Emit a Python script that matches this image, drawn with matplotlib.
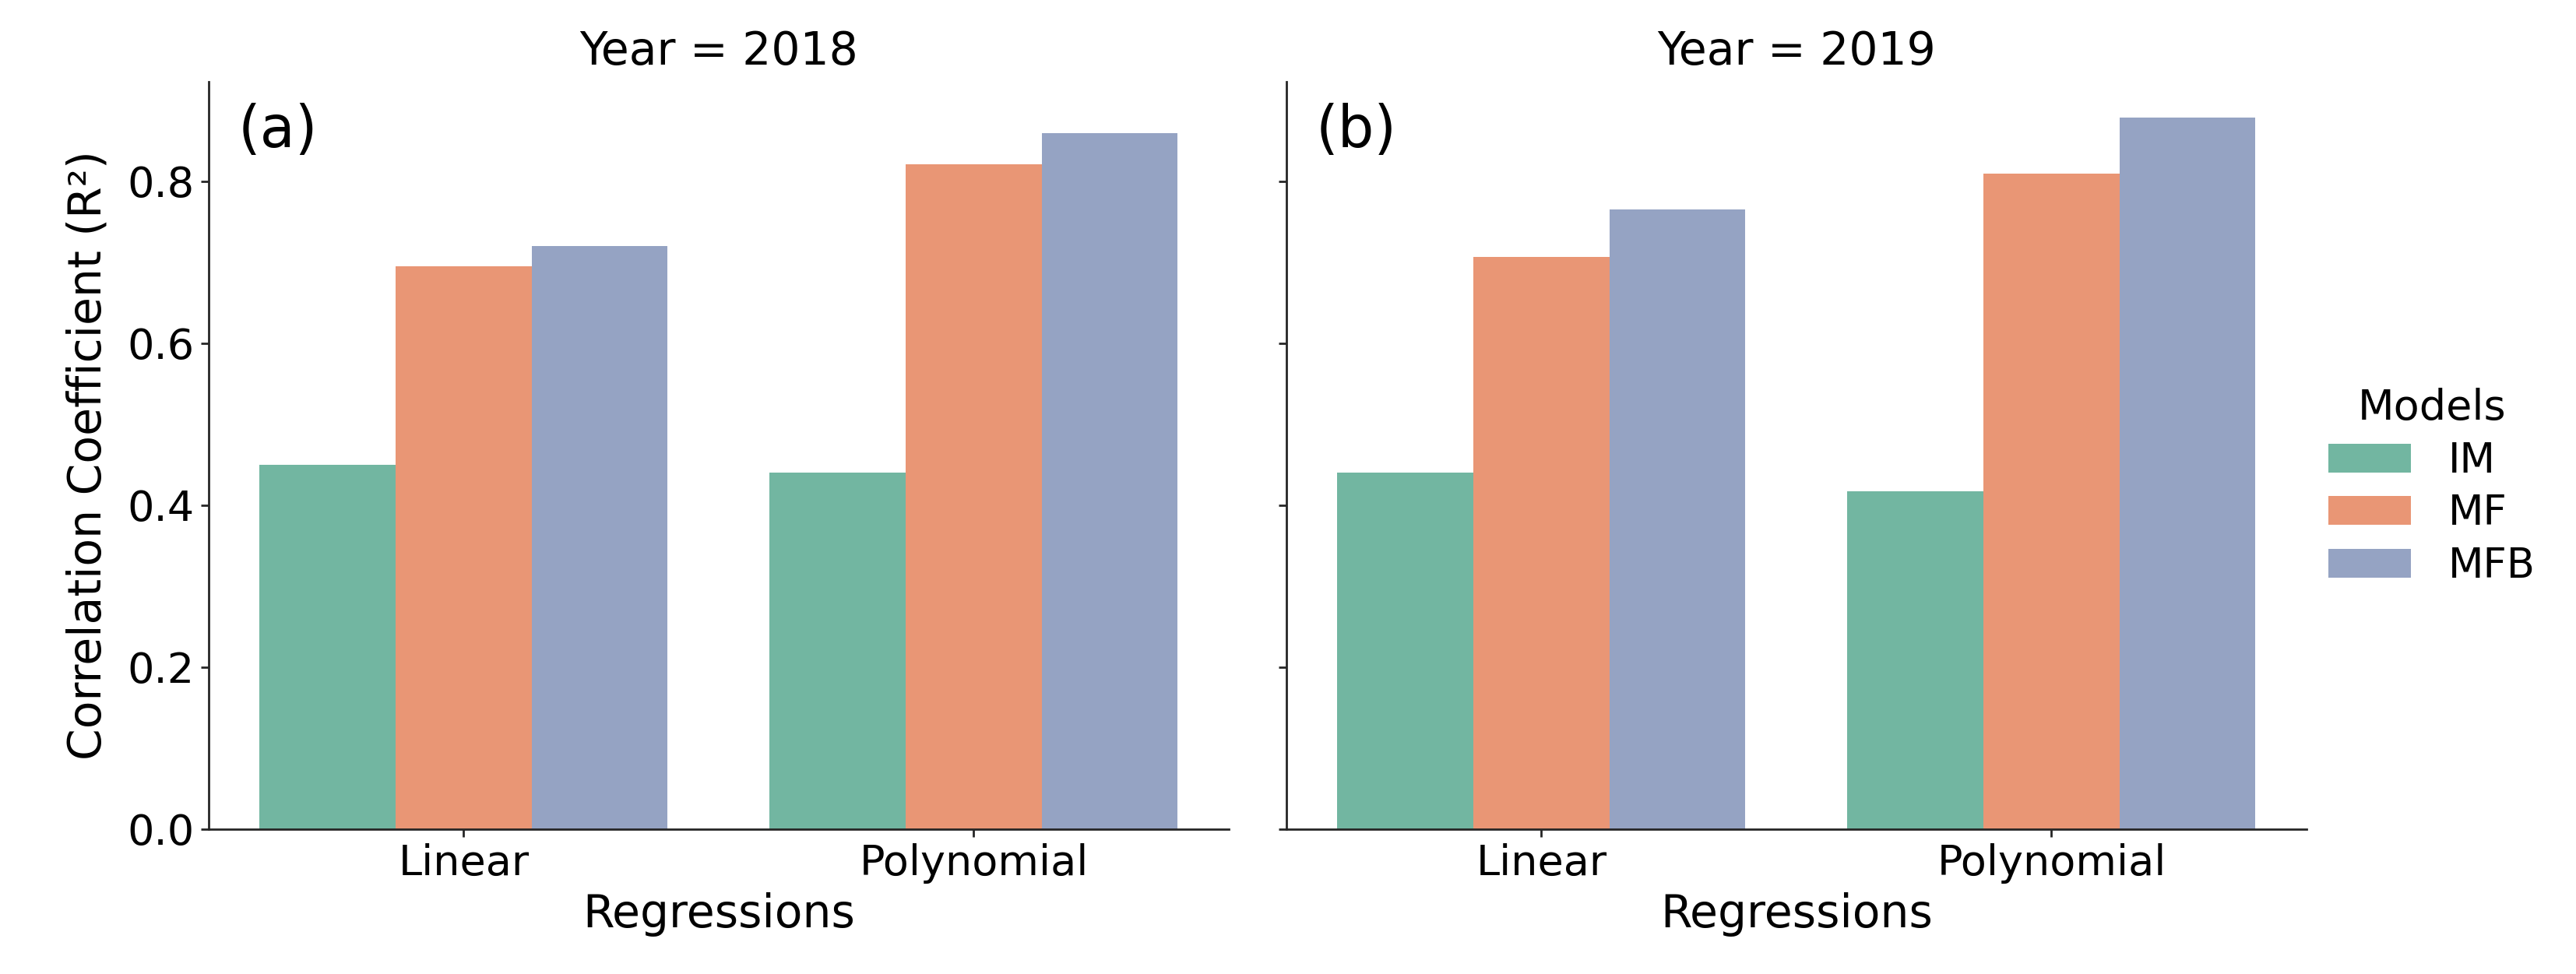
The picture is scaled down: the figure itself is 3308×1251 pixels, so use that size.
import matplotlib
matplotlib.use('Agg')
import matplotlib.pyplot as plt
import numpy as np
import seaborn as sns

# data
years = ['2018', '2019']
regressions = ['Linear', 'Polynomial']
models = ['IM', 'MF', 'MFB']
panel_tags = ['(a)', '(b)']

r2_2018_im = [0.450, 0.440]
r2_2018_mf = [0.695, 0.821]
r2_2018_mfb = [0.720, 0.860]

r2_2019_im = [0.440, 0.417]
r2_2019_mf = [0.707, 0.810]
r2_2019_mfb = [0.765, 0.879]

values = {
    '2018': [r2_2018_im, r2_2018_mf, r2_2018_mfb],
    '2019': [r2_2019_im, r2_2019_mf, r2_2019_mfb],
}

plt.rcParams['font.family'] = ['DejaVu Sans']
colors = sns.color_palette('Set2', 3, desat=0.75)
ink = '#262626'

fig, axes = plt.subplots(1, 2, figsize=(33.08, 12.51), dpi=100, sharey=True)
fig.subplots_adjust(left=0.081, right=0.8954, bottom=0.1487, top=0.916,
                    wspace=0.0565)

x = np.arange(len(regressions))
width = 0.8 / len(models)

for ax, year, tag in zip(axes, years, panel_tags):
    for i, (model, vals) in enumerate(zip(models, values[year])):
        ax.bar(x + (i - 1) * width, vals, width, color=colors[i],
               label=model, linewidth=0)
    ax.set_xticks(x)
    ax.set_xticklabels(regressions)
    ax.set_xlim(-0.5, len(regressions) - 0.5)
    ax.set_title(f'Year = {year}', fontsize=42, pad=16)
    ax.set_xlabel('Regressions', fontsize=42, labelpad=8)
    ax.text(0.029, 0.934, tag, transform=ax.transAxes, fontsize=53,
            ha='left', va='center')
    for side in ['top', 'right']:
        ax.spines[side].set_visible(False)
    for side in ['left', 'bottom']:
        ax.spines[side].set_linewidth(2)
        ax.spines[side].set_color(ink)
    ax.tick_params(labelsize=39, length=7, width=2, color=ink, pad=6)

axes[0].set_ylabel('Correlation Coefficient (R²)', fontsize=42, labelpad=16)
axes[1].tick_params(labelleft=False)

handles, labels = axes[0].get_legend_handles_labels()
fig.legend(handles, labels, title='Models', loc='center left',
           bbox_to_anchor=(0.896, 0.5), frameon=False, fontsize=38,
           title_fontsize=39, borderpad=0, labelspacing=0.3,
           handlelength=2.0, handleheight=0.7, handletextpad=0.9)

fig.savefig('out.png', dpi=100)
